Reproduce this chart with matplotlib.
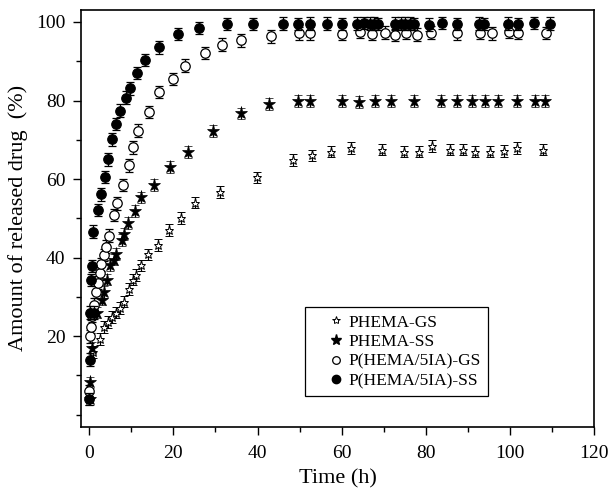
import matplotlib
matplotlib.use("Agg")
import matplotlib.pyplot as plt
from matplotlib.lines import Line2D
from matplotlib.ticker import MultipleLocator

plt.rcParams['font.family'] = ['Liberation Serif', 'DejaVu Serif']

# ---------------------------------------------------------------------------
# data
# ---------------------------------------------------------------------------
t_gs = [0, 1.0, 2.6, 3.6, 4.4, 5.4, 6.4, 7.4, 8.2, 9.4, 10.5, 11.1, 12.3, 13.9,
        16.3, 18.9, 21.7, 25.2, 31.0, 39.8, 48.5, 52.9, 57.4, 62.1, 69.6, 74.9,
        78.3, 81.4, 85.7, 88.8, 91.7, 95.3, 98.5, 101.7, 107.8]
y_gs = [4, 16, 19.2, 22.4, 23.6, 24.8, 26, 27.2, 28.8, 32, 34.4, 35.6, 38, 40.8,
        43.2, 47.1, 50.1, 54, 56.7, 60.4, 64.8, 66, 67, 68, 67.5, 67,
        67, 68.5, 67.5, 67.5, 67, 67, 67.2, 68, 67.5]

t_ss = [0.1, 0.2, 0.6, 1.8, 3.0, 3.6, 4.3, 5.0, 5.8, 6.3, 7.8, 8.3, 9.2, 11.0,
        12.4, 15.4, 19.3, 23.4, 29.5, 36.1, 42.7, 49.7, 52.5, 60.0, 64.0, 67.9,
        71.8, 77.2, 83.5, 87.4, 91.0, 94.1, 97.1, 101.7, 105.9, 108.2]
y_ss = [4, 8.2, 17, 26, 29.3, 31.2, 34.4, 38, 39.5, 41, 44.5, 46, 48.8, 51.8,
        55.3, 58.4, 63, 66.8, 72.3, 76.7, 79.1, 79.8, 79.8, 79.8, 79.7, 79.8,
        79.8, 79.8, 79.8, 79.8, 79.8, 79.8, 79.8, 79.8, 79.8, 79.8]

t_ia_gs = [0, 0.2, 0.4, 0.7, 1.2, 1.5, 2.1, 2.5, 2.9, 3.5, 3.9, 4.6, 5.9, 6.6,
           8.0, 9.5, 10.5, 11.6, 14.1, 16.7, 19.9, 22.7, 27.6, 31.6, 36.1, 43.3,
           49.8, 52.5, 60.1, 64.4, 67.1, 70.2, 72.7, 75.3, 77.8, 81.3, 87.4,
           92.8, 95.7, 99.7, 101.8, 108.5]
y_ia_gs = [6, 19.9, 22.4, 25.2, 28, 31.2, 33.6, 36, 38.3, 40.6, 42.8, 45.6, 50.8, 53.8,
           58.5, 63.5, 68.1, 72.3, 77.1, 82.2, 85.5, 88.9, 92.1, 94.2, 95.3, 96.3,
           97.1, 97.1, 97.0, 97.5, 97.0, 97.3, 96.7, 97.3, 96.8, 97.3, 97.1,
           97.3, 97.1, 97.5, 97.3, 97.2]

t_ia_ss = [0, 0.1, 0.2, 1.2, 0.5, 0.6, 1.0, 2.0, 2.7, 3.8, 4.4, 5.3, 6.4, 7.4,
           8.7, 9.6, 11.4, 13.3, 16.7, 21.0, 26.0, 32.8, 38.9, 46.1, 49.7, 52.5,
           56.6, 60.0, 63.7, 65.3, 66.7, 67.7, 68.7, 72.7, 74.0, 75.1, 76.2, 77.2,
           80.8, 83.9, 87.5, 92.6, 93.9, 99.6, 101.8, 105.7, 109.4]
y_ia_ss = [4, 14, 26, 26, 34.3, 37.8, 46.6, 52.1, 56.1, 60.5, 65, 70.1, 74, 77.4,
           80.7, 83.1, 87, 90.3, 93.5, 96.9, 98.5, 99.5, 99.5, 99.6, 99.5, 99.6,
           99.6, 99.5, 99.6, 99.7, 99.6, 99.6, 99.5, 99.6, 99.6, 99.6, 99.6, 99.5,
           99.3, 99.7, 99.5, 99.6, 99.5, 99.6, 99.5, 99.7, 99.6]

labels = ["PHEMA-GS", "PHEMA-SS", "P(HEMA/5IA)-GS", "P(HEMA/5IA)-SS"]

# ---------------------------------------------------------------------------
# plot
# ---------------------------------------------------------------------------
fig = plt.figure(figsize=(6.12, 4.9), dpi=100)
ax = fig.add_axes([0.132, 0.129, 0.839, 0.851])

eb = dict(ls='none', ecolor='black', elinewidth=0.9, capsize=3.2, capthick=0.9,
          mec='black')
ax.errorbar(t_gs, y_gs, yerr=1.5, marker='*', ms=6.5, mfc='white', mew=0.7,
            zorder=3, **eb)
ax.errorbar(t_ss, y_ss, yerr=1.5, marker='*', ms=9.5, mfc='black', mew=0.5,
            zorder=3, **eb)
ax.errorbar(t_ia_gs, y_ia_gs, yerr=1.6, marker='o', ms=6.8, mfc='white', mew=0.9,
            zorder=3, **eb)
ax.errorbar(t_ia_ss, y_ia_ss, yerr=1.6, marker='o', ms=6.8, mfc='black', mew=0.9,
            zorder=4, **eb)

ax.set_xlim(-2, 120)
ax.set_ylim(-3.1, 103.1)
ax.xaxis.set_major_locator(MultipleLocator(20))
ax.xaxis.set_minor_locator(MultipleLocator(10))
ax.yaxis.set_major_locator(MultipleLocator(20))
ax.yaxis.set_minor_locator(MultipleLocator(10))
ax.set_yticks([20, 40, 60, 80, 100])
ax.tick_params(which='both', direction='out', top=False, right=False,
               width=1.0, labelsize=14)
ax.tick_params(which='major', length=6)
ax.tick_params(which='minor', length=3.5)
ax.tick_params(axis='x', which='major', pad=7)
ax.tick_params(axis='y', which='major', pad=5)
for s in ax.spines.values():
    s.set_linewidth(1.2)

ax.set_xlabel("Time (h)", fontsize=16, labelpad=5)
ax.set_ylabel("Amount of released drug  (%)", fontsize=16, labelpad=6)

handles = [
    Line2D([], [], ls='none', marker='*', ms=6, mfc='white', mec='black', mew=0.7),
    Line2D([], [], ls='none', marker='*', ms=8, mfc='black', mec='black'),
    Line2D([], [], ls='none', marker='o', ms=5.5, mfc='white', mec='black', mew=0.9),
    Line2D([], [], ls='none', marker='o', ms=6, mfc='black', mec='black'),
]
leg = ax.legend(handles, labels, loc='lower left', bbox_to_anchor=(0.437, 0.073),
                fontsize=12.5, frameon=True, fancybox=False, edgecolor='black',
                framealpha=1, borderpad=0.4, labelspacing=0.2, handlelength=2.8,
                handletextpad=-0.7, borderaxespad=0)
leg.get_frame().set_linewidth(0.9)

plt.savefig("out.png", dpi=100)
plt.close()
